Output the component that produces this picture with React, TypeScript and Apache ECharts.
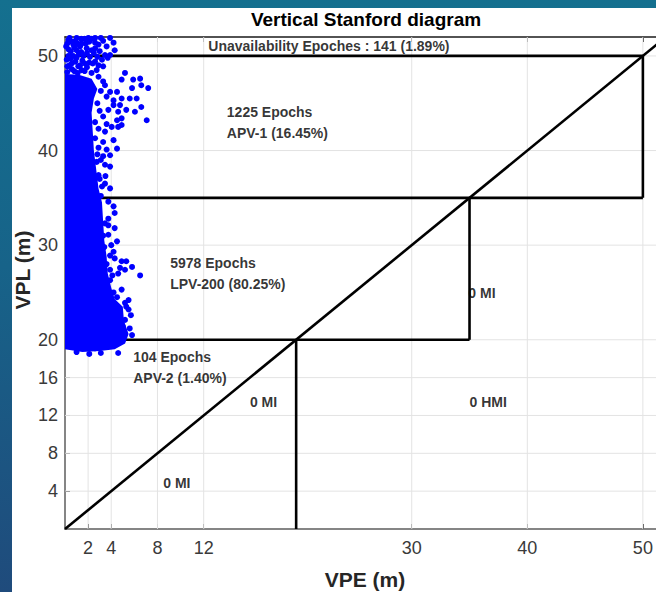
import React, { useEffect, useRef } from "react";
import * as echarts from "echarts";

const xTicks = [2, 4, 8, 12, 30, 40, 50];
const yTicks = [4, 8, 12, 16, 20, 30, 40, 50];
const axisMax = 52;

// Stanford region boundaries (VPE, VPL)
const stanfordSegments: number[][][] = [
  [[0, 0], [52, 52]],
  [[0, 50], [50, 50]],
  [[50, 50], [50, 35]],
  [[0, 35], [50, 35]],
  [[35, 35], [35, 20]],
  [[0, 20], [35, 20]],
  [[20, 20], [20, 0]],
];

// dense core of the epoch cloud (outline)
const coreOutline: number[][] = [
  [0, 19.0], [1.5, 18.7], [3.0, 18.8], [4.3, 19.0], [5.2, 19.6], [5.5, 20.6], [5.1, 22.0],
  [5.0, 23.5], [4.3, 24.3], [4.0, 25.5], [3.7, 27.0], [3.6, 28.8], [3.4, 30.5],
  [3.3, 32.5], [3.2, 34.5], [2.9, 36.0], [2.7, 38.0], [2.5, 40.0], [2.4, 42.0],
  [2.3, 44.0], [2.5, 45.5], [2.8, 46.5], [2.3, 47.6], [1.2, 48.0], [0, 48.1],
];

// individual epochs outside the dense core
const epochPoints: number[][] = [
  [1.01, 51.9], [2.02, 51.9], [2.6, 51.9], [3.9, 51.9], [4.2, 51.4], [0.29, 51.7],
  [0.1, 51.0], [0.72, 51.2], [1.44, 51.3], [1.88, 50.8], [2.3, 50.6], [2.9, 51.2],
  [3.46, 50.1], [3.9, 50.1], [3.2, 49.6], [2.6, 49.4], [1.73, 49.2], [1.15, 48.9],
  [0.58, 49.2], [0.15, 49.6], [2.16, 49.9], [2.74, 48.5], [1.44, 48.5], [2.3, 48.2],
  [0.5, 50.5], [1.2, 50.2], [0.9, 51.6], [1.6, 50.0], [2.5, 50.3], [0.3, 50.0],
  [1.0, 49.8], [2.8, 49.9], [0.6, 48.6], [1.9, 48.8], [3.3, 51.6], [0.2, 51.3],
  [1.3, 51.0], [2.1, 51.5], [3.6, 51.0], [0.8, 50.9], [1.7, 51.8], [2.4, 49.2],
  [0.4, 49.0], [1.1, 48.2], [0.2, 48.3], [3.0, 50.5], [1.5, 49.5], [0.7, 50.0],
  [0.4, 51.9], [1.4, 51.8], [2.3, 51.8], [3.1, 51.9], [0.6, 51.5], [1.1, 51.3],
  [1.8, 51.3], [2.6, 51.4], [0.3, 50.7], [1.0, 50.6], [1.9, 50.3], [2.6, 50.8],
  [0.9, 49.4], [1.3, 49.0], [2.1, 49.3], [0.2, 48.9], [0.8, 48.4], [1.7, 48.4],
  [3.3, 48.9], [2.9, 49.0], [3.7, 49.8], [4.3, 50.6], [0.5, 49.7], [1.4, 50.4],
  [5.19, 48.2], [5.9, 47.5], [6.5, 47.6], [6.6, 46.9], [7.2, 46.6], [4.9, 47.5],
  [5.8, 46.6], [4.5, 46.2], [3.9, 46.2], [3.6, 45.7], [4.2, 45.3], [4.9, 45.5],
  [5.6, 45.5], [6.2, 45.5], [4.76, 44.8], [4.2, 44.8], [3.75, 44.3], [4.6, 44.1],
  [5.3, 44.3], [6.6, 44.6], [6.05, 44.1], [7.07, 43.2], [4.9, 43.4], [4.5, 43.2],
  [3.3, 47.3], [3.46, 46.9], [2.9, 47.8], [3.3, 43.6], [2.8, 45.0], [3.0, 44.2],
  [3.1, 46.3], [2.6, 43.0], [3.6, 42.8], [2.9, 42.3], [2.9, 40.3], [3.1, 39.0],
  [4.04, 42.5], [4.6, 42.5], [4.9, 42.7], [3.46, 42.0], [4.2, 41.1], [3.3, 40.9],
  [2.6, 41.3], [3.6, 40.1], [4.5, 40.2], [3.9, 39.5], [3.3, 39.4], [2.74, 38.8],
  [3.46, 38.5], [3.9, 38.3], [2.9, 37.4], [3.46, 36.5], [3.9, 36.0], [3.75, 34.6],
  [4.2, 34.1], [4.3, 33.4], [3.75, 32.8], [3.46, 32.3], [2.74, 33.2], [3.1, 35.2],
  [3.75, 32.1], [4.3, 31.8], [3.75, 31.1], [4.5, 30.4], [4.2, 29.3], [4.3, 28.6],
  [4.9, 28.3], [5.3, 28.3], [5.8, 27.7], [6.5, 26.8], [4.76, 27.6], [5.19, 27.4],
  [3.9, 27.4], [4.6, 27.0], [3.46, 26.7], [3.9, 26.3], [3.0, 27.0], [2.9, 26.0],
  [3.6, 25.6], [4.9, 25.3], [5.5, 24.2], [5.3, 23.5], [5.5, 23.2], [4.5, 22.8],
  [3.46, 22.8], [5.19, 23.9], [5.19, 22.1], [5.0, 21.4], [5.8, 20.5], [4.6, 18.6],
  [4.3, 19.6], [3.75, 19.3], [2.6, 19.1], [1.73, 19.3], [0.87, 19.4], [0.29, 19.6],
  [4.2, 25.0], [4.5, 24.5], [3.4, 29.8], [3.3, 31.0], [4.0, 30.0], [3.6, 28.0],
  [3.0, 37.0], [3.2, 36.2], [2.8, 39.6], [3.5, 37.3], [3.9, 28.9], [4.1, 26.8],
  [3.1, 18.6], [2.1, 18.5], [1.0, 18.7], [5.6, 21.2], [5.7, 22.6], [4.0, 23.9],
];

const annotations = [
  { x: 12.4, y: 51.0, text: "Unavailability Epoches : 141 (1.89%)" },
  { x: 14.0, y: 44.1, text: "1225 Epochs" },
  { x: 14.0, y: 41.9, text: "APV-1 (16.45%)" },
  { x: 9.1, y: 28.1, text: "5978 Epochs" },
  { x: 9.1, y: 25.9, text: "LPV-200 (80.25%)" },
  { x: 5.9, y: 18.2, text: "104 Epochs" },
  { x: 5.9, y: 16.0, text: "APV-2 (1.40%)" },
  { x: 16.0, y: 13.4, text: "0 MI" },
  { x: 35.0, y: 13.4, text: "0 HMI" },
  { x: 34.9, y: 24.9, text: "0 MI" },
  { x: 8.5, y: 4.9, text: "0 MI" },
];

const FONT = "'Liberation Sans Narrow', 'Arial Narrow', 'Liberation Sans', Arial, sans-serif";

export default function App() {
  const ref = useRef<HTMLDivElement>(null);
  useEffect(() => {
    document.body.style.margin = "0";
    const chart = echarts.init(ref.current!, null, { renderer: "svg" });
    const axisCommon = {
      type: "value" as const,
      min: 0,
      max: axisMax,
      splitLine: { show: false },
    };
    const gridStyle = { color: "#e3e3e3", width: 1 };
    const series: any[] = [
      ...xTicks.map((v) => ({
        type: "line",
        data: [[v, 0], [v, axisMax]],
        symbol: "none",
        silent: true,
        z: 1,
        lineStyle: gridStyle,
      })),
      ...yTicks.map((v) => ({
        type: "line",
        data: [[0, v], [axisMax, v]],
        symbol: "none",
        silent: true,
        z: 1,
        lineStyle: gridStyle,
      })),
      ...stanfordSegments.map((seg) => ({
        type: "line",
        data: seg,
        symbol: "none",
        silent: true,
        z: 2,
        lineStyle: { color: "#000", width: 2.6 },
      })),
      {
        type: "custom",
        data: coreOutline,
        z: 3,
        silent: true,
        clip: true,
        renderItem: (params: any, api: any) => {
          if (params.dataIndex !== 0) return null;
          return {
            type: "polygon",
            shape: { points: coreOutline.map((p) => api.coord(p)) },
            style: { fill: "#0000ff" },
          };
        },
      },
      {
        type: "scatter",
        data: epochPoints,
        symbolSize: 6,
        z: 4,
        silent: true,
        clip: true,
        itemStyle: { color: "#0000ff", opacity: 1 },
      },
      {
        type: "scatter",
        data: annotations.map((a) => ({ value: [a.x, a.y], name: a.text })),
        symbolSize: 0,
        z: 5,
        silent: true,
        label: {
          show: true,
          position: "right",
          distance: 0,
          formatter: "{b}",
          color: "#000",
          fontWeight: "bold",
          fontSize: 14,
          fontFamily: FONT,
        },
      },
    ];
    chart.setOption({
      animation: false,
      backgroundColor: "transparent",
      grid: { left: 65, top: 37, right: 14, bottom: 63, containLabel: false },
      xAxis: [
        {
          ...axisCommon,
          position: "bottom",
          axisLine: { show: true, onZero: false, lineStyle: { color: "#858585", width: 2 } },
          axisTick: { show: true, inside: true, length: 5, customValues: xTicks, lineStyle: { color: "#262626", width: 1 } },
          axisLabel: { customValues: xTicks, color: "#3a3a3a", fontSize: 18, margin: 10, fontFamily: FONT },
        },
        {
          ...axisCommon,
          position: "top",
          axisLine: { show: true, onZero: false, lineStyle: { color: "#1a1a1a", width: 1.5 } },
          axisTick: { show: true, inside: true, length: 5, customValues: xTicks, lineStyle: { color: "#262626", width: 1 } },
          axisLabel: { show: false },
        },
      ],
      yAxis: [
        {
          ...axisCommon,
          position: "left",
          axisLine: { show: true, onZero: false, lineStyle: { color: "#858585", width: 2 } },
          axisTick: { show: true, inside: true, length: 5, customValues: yTicks, lineStyle: { color: "#262626", width: 1 } },
          axisLabel: { customValues: yTicks, color: "#3a3a3a", fontSize: 18, margin: 7, fontFamily: FONT },
        },
      ],
      graphic: [
        {
          type: "text",
          x: 366,
          y: 19,
          style: { text: "Vertical Stanford diagram", align: "center", verticalAlign: "middle", fill: "#000", font: `bold 19px ${FONT}` },
        },
        {
          type: "text",
          x: 365,
          y: 579,
          style: { text: "VPE (m)", align: "center", verticalAlign: "middle", fill: "#262626", font: `bold 21px ${FONT}` },
        },
        {
          type: "text",
          x: 22,
          y: 270,
          rotation: Math.PI / 2,
          style: { text: "VPL (m)", align: "center", verticalAlign: "middle", fill: "#262626", font: `bold 21px ${FONT}` },
        },
      ],
      series,
    });
    return () => chart.dispose();
  }, []);
  return (
    <div style={{ position: "absolute", left: 0, top: 0, width: 656, height: 592, overflow: "hidden", background: "linear-gradient(180deg, #14708f 0%, #176389 45%, #1f4b7c 100%)" }}>
      <div style={{ position: "absolute", left: 12, top: 8, right: 0, bottom: 0, background: "#fff" }} />
      <div ref={ref} style={{ position: "absolute", left: 0, top: 0, width: 680, height: 592 }} />
    </div>
  );
}
